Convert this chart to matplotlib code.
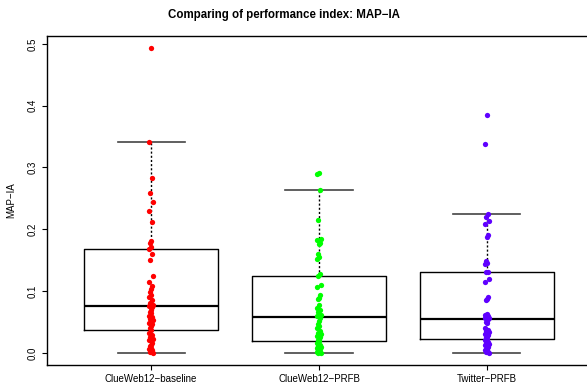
import matplotlib
matplotlib.use("Agg")
import matplotlib.pyplot as plt

plt.rcParams['font.family'] = ['Liberation Sans', 'DejaVu Sans']

# data (MAP-IA per query)
groups = ["ClueWeb12\u2212baseline", "ClueWeb12\u2212PRFB", "Twitter\u2212PRFB"]
colors = ["#FF0000", "#00FF00", "#5F00FF"]

baseline = [0.493, 0.341, 0.283, 0.258, 0.244, 0.229, 0.211, 0.181, 0.177, 0.171,
            0.168, 0.160, 0.150, 0.125, 0.114, 0.108, 0.103, 0.099, 0.094, 0.091,
            0.085, 0.080, 0.078, 0.076, 0.074, 0.070, 0.066, 0.064, 0.060, 0.058,
            0.055, 0.053, 0.049, 0.046, 0.044, 0.040, 0.037, 0.032, 0.029, 0.026,
            0.022, 0.020, 0.016, 0.013, 0.011, 0.008, 0.006, 0.004, 0.002, 0.000]
cw_prfb = [0.291, 0.290, 0.264, 0.215, 0.185, 0.182, 0.178, 0.176, 0.160, 0.155,
           0.152, 0.128, 0.125, 0.110, 0.106, 0.093, 0.089, 0.087, 0.077, 0.073,
           0.070, 0.066, 0.062, 0.060, 0.056, 0.051, 0.047, 0.043, 0.040, 0.036,
           0.032, 0.030, 0.027, 0.025, 0.023, 0.021, 0.019, 0.016, 0.013, 0.011,
           0.009, 0.008, 0.006, 0.005, 0.004, 0.003, 0.002, 0.001, 0.000, 0.000]
tw_prfb = [0.385, 0.338, 0.224, 0.219, 0.214, 0.208, 0.190, 0.188, 0.148, 0.146,
           0.144, 0.131, 0.130, 0.120, 0.114, 0.090, 0.087, 0.085, 0.063, 0.061,
           0.060, 0.058, 0.057, 0.056, 0.054, 0.052, 0.050, 0.048, 0.040, 0.037,
           0.035, 0.033, 0.031, 0.029, 0.027, 0.025, 0.023, 0.020, 0.018, 0.016,
           0.014, 0.012, 0.010, 0.009, 0.007, 0.005, 0.004, 0.002, 0.001, 0.000]

# box statistics as drawn in the reference
q1 = [0.037, 0.019, 0.023]
med = [0.076, 0.058, 0.055]
q3 = [0.168, 0.125, 0.130]
whislo = [0.0, 0.0, 0.0]
whishi = [0.341, 0.264, 0.224]

# small horizontal jitter pattern for the strip points
jitter = [0.0, -0.010, 0.008, -0.004, 0.012, -0.013, 0.005, 0.002, -0.007]

fig = plt.figure(figsize=(5.87, 3.85), dpi=100)
ax = fig.add_axes([47 / 587, 20 / 385, 544 / 587, 329 / 385])

stats = []
for i in range(3):
    stats.append(dict(label=groups[i], q1=q1[i], med=med[i], q3=q3[i],
                      whislo=whislo[i], whishi=whishi[i], fliers=[]))

ax.bxp(stats, positions=[1, 2, 3], widths=0.8, showfliers=False,
       boxprops=dict(color="black", linewidth=1.0),
       medianprops=dict(color="black", linewidth=1.6),
       whiskerprops=dict(color="black", linewidth=1.0, linestyle=(0, (1.5, 1.5))),
       capprops=dict(color="#444444", linewidth=1.2), capwidths=0.4)

for i, vals in enumerate([baseline, cw_prfb, tw_prfb]):
    xs = [i + 1 + jitter[k % len(jitter)] for k in range(len(vals))]
    ax.plot(xs, vals, "o", color=colors[i], markersize=3.8, markeredgewidth=0, zorder=3)

ax.set_xlim(0.38, 3.62)
ax.set_ylim(-0.0197, 0.5127)
ax.set_yticks([0.0, 0.1, 0.2, 0.3, 0.4, 0.5])
ax.set_yticklabels(["0.0", "0.1", "0.2", "0.3", "0.4", "0.5"], rotation=90, va="center")
ax.set_xticks([1, 2, 3])
ax.set_xticklabels(groups)
ax.tick_params(axis="both", labelsize=7, length=3.6, width=0.8, pad=3)
for s in ax.spines.values():
    s.set_linewidth(1.0)

ax.set_ylabel("MAP\u2212IA", fontsize=7, labelpad=8)
fig.text(284 / 587, 1 - 15 / 385, "Comparing of performance index: MAP\u2212IA",
         ha="center", va="center", fontsize=8.3, fontweight="bold")

fig.savefig("out.png", dpi=100)
